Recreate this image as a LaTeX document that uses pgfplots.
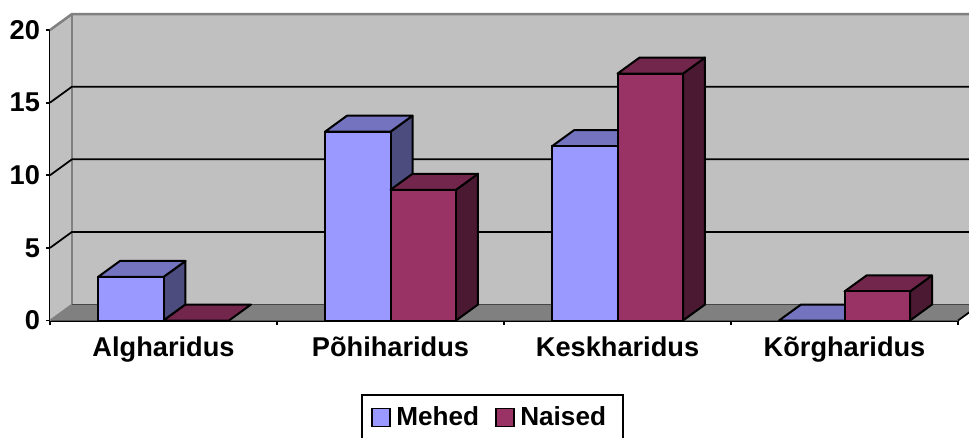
\documentclass[border=0pt]{standalone}
\usepackage{pgfplots}
\pgfplotsset{compat=1.18}
\usepackage{fontspec}
\setmainfont{Liberation Sans}
\definecolor{wall}{HTML}{C0C0C0}
\definecolor{floorc}{HTML}{808080}
\definecolor{mf}{HTML}{9999FF}
\definecolor{mt}{HTML}{7373BF}
\definecolor{ms}{HTML}{4C4C7F}
\definecolor{nf}{HTML}{993366}
\definecolor{nt}{HTML}{72264C}
\definecolor{ns}{HTML}{4C1933}
\begin{document}
\begin{tikzpicture}
\path[use as bounding box,clip] (-37.5pt,-87.375pt) rectangle (689.25pt,240.375pt);
\begin{axis}[
  scale only axis, width=681pt, height=217.875pt,
  xmin=0, xmax=4, ymin=0, ymax=20, clip=false,
  axis x line=bottom, axis y line=left,
  axis line style={black,line width=1.5pt,-},
  xtick={0,1,2,3,4}, ytick={0,5,10,15,20},
  x tick label as interval,
  xticklabels={Algharidus,P\~ohiharidus,Keskharidus,K\~orgharidus},
  tick align=outside, major tick length=3pt,
  tick style={black,line width=1.4pt},
  /pgf/number format/assume math mode=true,
  tick label style={font=\fontsize{20.4}{23}\selectfont\bfseries},
  xticklabel style={yshift=-6pt},
  yticklabel style={xshift=-1pt},
  legend style={at={(0.4878,-0.253)},anchor=north,draw=black,line width=1.5pt,
    legend columns=2,font=\fontsize{19.6}{22}\selectfont\bfseries,
    inner xsep=6.5pt,inner ysep=6.5pt,
    nodes={text depth=16pt,inner sep=2pt},
    /tikz/every odd column/.style={column sep=2pt},
    /tikz/every even column/.style={column sep=10pt}},
  my key/.style={legend image code/.code={\draw[fill=##1,draw=black,line width=1.4pt] (0pt,0pt) rectangle (13.5pt,13.5pt);}},
]
% walls and floor
\addplot[forget plot,fill=wall,draw=none] coordinates {(0.0969,1.1)(4.0969,1.1)(4.0969,21.1)(0.0969,21.1)} -- cycle;
\addplot[forget plot,fill=wall,draw=none] coordinates {(0,0)(0.0969,1.1)(0.0969,21.1)(0,20)} -- cycle;
\addplot[forget plot,fill=floorc,draw=none] coordinates {(0,0)(4,0)(4.0969,1.1)(0.0969,1.1)} -- cycle;
% wall edges
\addplot[forget plot,draw=floorc,line width=1.9pt] coordinates {(0,20)(0.0969,21.1)(4.0969,21.1)};
\addplot[forget plot,draw=floorc,line width=1.9pt] coordinates {(0.0969,21.1)(0.0969,1.1)};
\addplot[forget plot,draw=floorc,line width=1.2pt] coordinates {(0,0)(0.0969,1.1)};
\addplot[forget plot,draw=black!45!floorc,line width=0.7pt] coordinates {(0.0969,1.1)(4.0969,1.1)};
\addplot[forget plot,draw=black,line width=1.3pt] coordinates {(4,0)(4.0969,1.1)};
% gridlines
\addplot[forget plot,draw=black,line width=1.3pt] coordinates {(0,5)(0.0969,6.1)(4.0969,6.1)};
\addplot[forget plot,draw=black,line width=1.3pt] coordinates {(0,10)(0.0969,11.1)(4.0969,11.1)};
\addplot[forget plot,draw=black,line width=1.3pt] coordinates {(0,15)(0.0969,16.1)(4.0969,16.1)};
% Mehed: sides
\addplot[forget plot,fill=ms,draw=black,line width=1.5pt,line join=round] coordinates {(0.5,0)(0.5969,1.1)(0.5969,4.1)(0.5,3)} -- cycle;
\addplot[forget plot,fill=ms,draw=black,line width=1.5pt,line join=round] coordinates {(1.5,0)(1.5969,1.1)(1.5969,14.1)(1.5,13)} -- cycle;
\addplot[forget plot,fill=ms,draw=black,line width=1.5pt,line join=round] coordinates {(2.5,0)(2.5969,1.1)(2.5969,13.1)(2.5,12)} -- cycle;
% Mehed: tops
\addplot[forget plot,fill=mt,draw=black,line width=1.5pt,line join=round] coordinates {(0.2115,3)(0.5,3)(0.5969,4.1)(0.3084,4.1)} -- cycle;
\addplot[forget plot,fill=mt,draw=black,line width=1.5pt,line join=round] coordinates {(1.2115,13)(1.5,13)(1.5969,14.1)(1.3084,14.1)} -- cycle;
\addplot[forget plot,fill=mt,draw=black,line width=1.5pt,line join=round] coordinates {(2.2115,12)(2.5,12)(2.5969,13.1)(2.3084,13.1)} -- cycle;
\addplot[forget plot,fill=mt,draw=black,line width=1.5pt,line join=round] coordinates {(3.2115,0)(3.5,0)(3.5969,1.1)(3.3084,1.1)} -- cycle;
% Mehed: fronts
\addplot[ybar,bar width=0.2885,bar shift=-0.14425,fill=mf,draw=black,line width=1.5pt,my key=mf]
  coordinates {(0.5,3)(1.5,13)(2.5,12)(3.5,0)};
\addlegendentry{Mehed}
% Naised: sides
\addplot[forget plot,fill=ns,draw=black,line width=1.5pt,line join=round] coordinates {(1.7885,0)(1.8854,1.1)(1.8854,10.1)(1.7885,9)} -- cycle;
\addplot[forget plot,fill=ns,draw=black,line width=1.5pt,line join=round] coordinates {(2.7885,0)(2.8854,1.1)(2.8854,18.1)(2.7885,17)} -- cycle;
\addplot[forget plot,fill=ns,draw=black,line width=1.5pt,line join=round] coordinates {(3.7885,0)(3.8854,1.1)(3.8854,3.1)(3.7885,2)} -- cycle;
% Naised: tops
\addplot[forget plot,fill=nt,draw=black,line width=1.5pt,line join=round] coordinates {(0.5,0)(0.7885,0)(0.8854,1.1)(0.5969,1.1)} -- cycle;
\addplot[forget plot,fill=nt,draw=black,line width=1.5pt,line join=round] coordinates {(1.5,9)(1.7885,9)(1.8854,10.1)(1.5969,10.1)} -- cycle;
\addplot[forget plot,fill=nt,draw=black,line width=1.5pt,line join=round] coordinates {(2.5,17)(2.7885,17)(2.8854,18.1)(2.5969,18.1)} -- cycle;
\addplot[forget plot,fill=nt,draw=black,line width=1.5pt,line join=round] coordinates {(3.5,2)(3.7885,2)(3.8854,3.1)(3.5969,3.1)} -- cycle;
% Naised: fronts
\addplot[ybar,bar width=0.2885,bar shift=0.14425,fill=nf,draw=black,line width=1.5pt,my key=nf]
  coordinates {(0.5,0)(1.5,9)(2.5,17)(3.5,2)};
\addlegendentry{Naised\hspace*{4.5pt}}
\end{axis}
\end{tikzpicture}
\end{document}
